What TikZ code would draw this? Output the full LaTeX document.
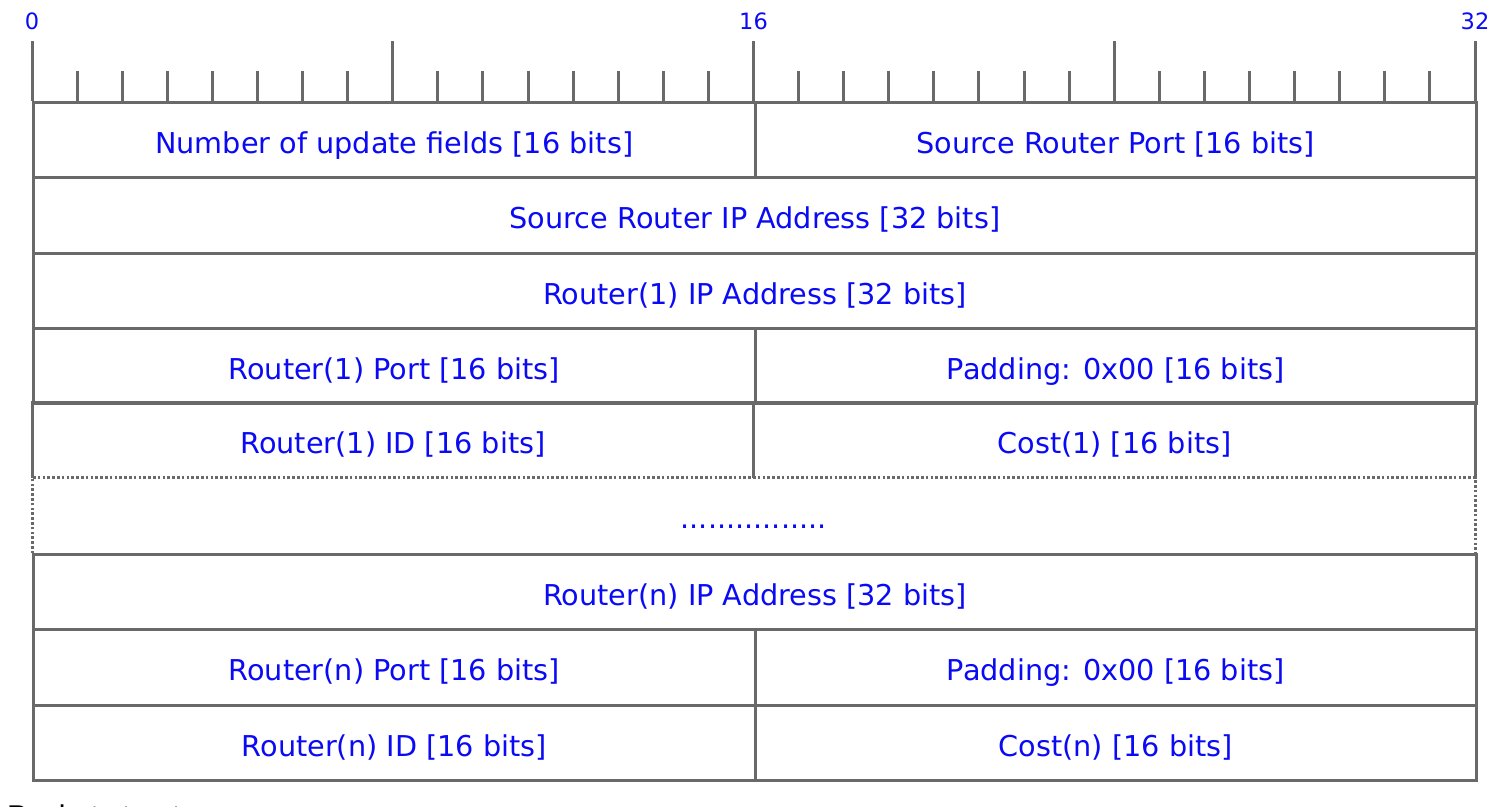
\documentclass[tikz,border=0pt]{standalone}
\usepackage{fontspec}
\setmainfont{DejaVu Sans}
\newfontfamily\capfont{Liberation Sans}
\begin{document}
\begin{tikzpicture}[x=1pt,y=-1pt,
  gridline/.style={draw=linegray,line width=3pt},
  dotline/.style={draw=linegray,line width=3pt,dash pattern=on 2.6pt off 2.2pt},
  field/.style={rectangle,inner sep=0pt,minimum height=75.33pt,text=fieldblue,
     font=\fontsize{28.7}{32}\selectfont,text height=26.4pt,text depth=0pt},
  half/.style={field,minimum width=721.5pt},
  full/.style={field,minimum width=1443pt},
  rulelbl/.style={text=fieldblue,font=\fontsize{22.5}{26}\selectfont,inner sep=0pt}]
\definecolor{linegray}{RGB}{105,105,105}
\definecolor{fieldblue}{RGB}{10,10,245}
\useasboundingbox[fill=white] (0,0) rectangle (1512,806);

% ruler
\foreach \i in {0,...,32}{
  \pgfmathsetmacro{\xx}{32+\i*45.09375}
  \pgfmathtruncatemacro{\m}{mod(\i,8)}
  \ifnum\m=0
    \draw[linegray,line width=3pt] (\xx,41) -- (\xx,101);
  \else
    \draw[linegray,line width=3pt] (\xx,71) -- (\xx,101);
  \fi
}
\node[rulelbl] (l0) at (32,21) {0};
\node[rulelbl] (l16) at (753.5,21) {16};
\node[rulelbl] (l32) at (1475,21) {32};

% rows
\node[half,gridline,anchor=north west] (r1a) at (32,101) {Number of update fields [16 bits]};
\node[half,gridline,anchor=north west] (r1b) at (753.5,101) {Source Router Port [16 bits]};
\node[full,gridline,anchor=north west] (r2) at (32,176.33) {Source Router IP Address [32 bits]};
\node[full,gridline,anchor=north west] (r3) at (32,251.67) {Router(1) IP Address [32 bits]};
\node[half,gridline,anchor=north west] (r4a) at (32,327) {Router(1) Port [16 bits]};
\node[half,gridline,anchor=north west] (r4b) at (753.5,327) {Padding: 0x00 [16 bits]};
\node[half,anchor=north west] (r5a) at (32,402.33) {Router(1) ID [16 bits]};
\node[half,anchor=north west] (r5b) at (753.5,402.33) {Cost(1) [16 bits]};
\draw[gridline] (r5a.south west) -- (r5a.north west) -- (r5b.north east) -- (r5b.south east);
\draw[gridline] (r5a.north east) -- (r5a.south east);
\node[full,anchor=north west] (dots) at (32,477.67) {................};
\draw[dotline] (dots.south west) -- (dots.north west) -- (dots.north east) -- (dots.south east);
\node[full,gridline,anchor=north west] (r7) at (32,553) {Router(n) IP Address [32 bits]};
\node[half,gridline,anchor=north west] (r8a) at (32,628.33) {Router(n) Port [16 bits]};
\node[half,gridline,anchor=north west] (r8b) at (753.5,628.33) {Padding: 0x00 [16 bits]};
\node[half,gridline,anchor=north west] (r9a) at (32,703.67) {Router(n) ID [16 bits]};
\node[half,gridline,anchor=north west] (r9b) at (753.5,703.67) {Cost(n) [16 bits]};

% caption (cut off at the page edge, as in the reference)
\node[anchor=base west,inner sep=0pt,font=\capfont\fontsize{30}{34}\selectfont] (cap) at (7,826) {Packet structure};
\end{tikzpicture}
\end{document}
